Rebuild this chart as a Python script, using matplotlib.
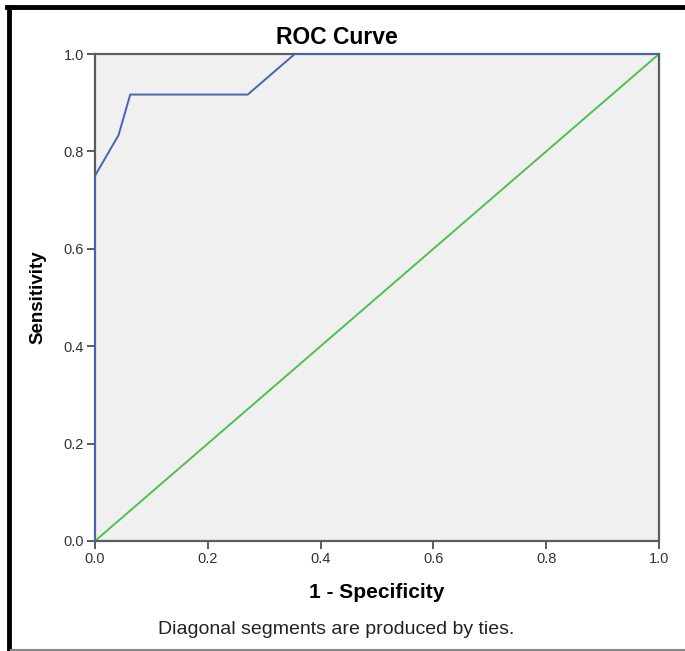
import numpy as np
import matplotlib.pyplot as plt
from matplotlib.lines import Line2D

plt.rcParams['font.family'] = ['Liberation Sans', 'DejaVu Sans']

# ROC points (1 - specificity, sensitivity)
fpr = [0.0, 0.0, 0.0417, 0.0625, 0.2708, 0.3542, 1.0]
tpr = [0.0, 0.75, 0.8333, 0.9167, 0.9167, 1.0, 1.0]
ref_line = [0.0, 1.0]
ticks = [0.0, 0.2, 0.4, 0.6, 0.8, 1.0]
tick_labels = ['0.0', '0.2', '0.4', '0.6', '0.8', '1.0']

fig = plt.figure(figsize=(6.85, 6.51), dpi=100)
ax = fig.add_axes([95/685, 1-541/651, 564/685, 487/651])
ax.set_facecolor('#f0f0f0')

ax.plot(ref_line, ref_line, color='#4cc24c', lw=1.4, zorder=2)
ax.plot(fpr, tpr, color='#4a62b4', lw=1.4, zorder=3, clip_on=False)

ax.set_xlim(0, 1)
ax.set_ylim(0, 1)
ax.set_xticks(ticks)
ax.set_xticklabels(tick_labels)
ax.set_yticks(ticks)
ax.set_yticklabels(tick_labels)
for s in ax.spines.values():
    s.set_color('#5c5c5c')
    s.set_linewidth(1.6)
ax.tick_params(direction='out', length=6, width=1.4, color='#5c5c5c',
               labelsize=10.5, labelcolor='#333333', pad=2)

ax.set_xlabel('1 - Specificity', fontsize=15, fontweight='bold', labelpad=12)
ax.set_ylabel('Sensitivity', fontsize=13.5, fontweight='bold', labelpad=12)

# title and footnote are centred on the figure, not the axes
fig.text(337/685, 1-38/651, 'ROC Curve', ha='center', va='center',
         fontsize=16.5, fontweight='bold')
fig.text(336/685, 1-629/651, 'Diagonal segments are produced by ties.',
         ha='center', va='center', fontsize=14, color='#222222')

# outer frame
fig.add_artist(Line2D([9/685, 9/685], [0, 1-7/651], color='black', lw=3.5,
                      transform=fig.transFigure))
fig.add_artist(Line2D([7/685, 1], [1-7/651, 1-7/651], color='black', lw=3.5,
                      transform=fig.transFigure))
fig.add_artist(Line2D([11/685, 1], [1-649.5/651, 1-649.5/651], color='#888888',
                      lw=1.5, transform=fig.transFigure))

fig.savefig('out.png', dpi=100)
